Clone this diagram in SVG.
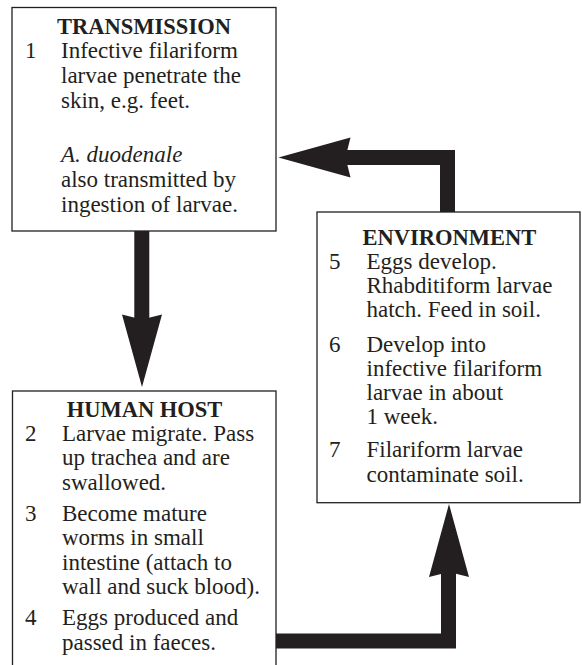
<svg xmlns="http://www.w3.org/2000/svg" width="582" height="665" viewBox="0 0 582 665">
<style>
.box{fill:#fff;stroke:#231f20;stroke-width:1.3}
.t{font-family:"Liberation Serif","Times New Roman",serif;font-size:23px;fill:#231f20}
.h{font-family:"Liberation Serif","Times New Roman",serif;font-size:22.5px;font-weight:bold;fill:#231f20;text-anchor:middle}
.i{font-style:italic}
.shaft{fill:none;stroke:#231f20;stroke-width:15;stroke-linejoin:miter;stroke-linecap:butt}
.head{fill:#231f20}
</style>
<rect width="582" height="665" fill="#fff"/>
<g id="connectors">
  <line class="shaft" x1="141.8" y1="231" x2="141.8" y2="322"/>
  <polygon class="head" points="142,387 162,314.5 142,319.5 122,314.5"/>
  <polyline class="shaft" points="447.5,212 447.5,157.5 342,157.5"/>
  <polygon class="head" points="278.5,157.5 350.5,137.5 345.5,157.5 350.5,177.5"/>
  <polyline class="shaft" points="276,641 448.5,641 448.5,570"/>
  <polygon class="head" points="449,504 469,577 449,572 429,577"/>
</g>
<g id="transmission">
  <rect class="box" x="12" y="7.5" width="264" height="223.5"/>
  <text class="h" x="144" y="34.3">TRANSMISSION</text>
  <text class="t" x="25" y="58.3">1</text>
  <text class="t" x="61" y="58.3">Infective filariform</text>
  <text class="t" x="61" y="83.3">larvae penetrate the</text>
  <text class="t" x="61" y="108.3">skin, e.g. feet.</text>
  <text class="t i" x="61" y="162.3">A. duodenale</text>
  <text class="t" x="61" y="187.3">also transmitted by</text>
  <text class="t" x="61" y="212.3">ingestion of larvae.</text>
</g>
<g id="human-host">
  <rect class="box" x="12.5" y="391" width="263.5" height="300"/>
  <text class="h" x="144.5" y="416.5">HUMAN HOST</text>
  <text class="t" x="25" y="440.5">2</text>
  <text class="t" x="62" y="440.5">Larvae migrate. Pass</text>
  <text class="t" x="62" y="465">up trachea and are</text>
  <text class="t" x="62" y="489.5">swallowed.</text>
  <text class="t" x="25" y="520.5">3</text>
  <text class="t" x="62" y="520.5">Become mature</text>
  <text class="t" x="62" y="545">worms in small</text>
  <text class="t" x="62" y="569.5">intestine (attach to</text>
  <text class="t" x="62" y="594">wall and suck blood).</text>
  <text class="t" x="25" y="625">4</text>
  <text class="t" x="62" y="625">Eggs produced and</text>
  <text class="t" x="62" y="649.5">passed in faeces.</text>
</g>
<g id="environment">
  <rect class="box" x="317" y="212" width="263" height="290.7"/>
  <text class="h" x="449.5" y="245">ENVIRONMENT</text>
  <text class="t" x="329" y="268.5">5</text>
  <text class="t" x="366.5" y="268.5">Eggs develop.</text>
  <text class="t" x="366.5" y="292.8">Rhabditiform larvae</text>
  <text class="t" x="366.5" y="317.3">hatch. Feed in soil.</text>
  <text class="t" x="329" y="351.7">6</text>
  <text class="t" x="366.5" y="351.7">Develop into</text>
  <text class="t" x="366.5" y="375.5">infective filariform</text>
  <text class="t" x="366.5" y="400">larvae in about</text>
  <text class="t" x="366.5" y="424">1 week.</text>
  <text class="t" x="329" y="456.7">7</text>
  <text class="t" x="366.5" y="456.7">Filariform larvae</text>
  <text class="t" x="366.5" y="481.5">contaminate soil.</text>
</g>
</svg>
